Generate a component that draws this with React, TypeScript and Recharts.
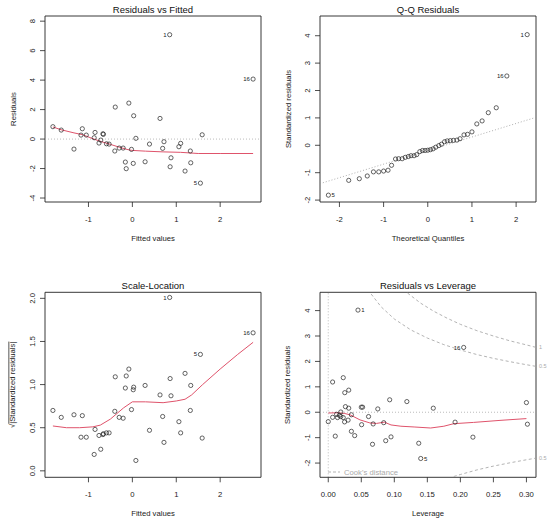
import React from "react";
import {
  ScatterChart,
  Scatter,
  XAxis,
  YAxis,
  ReferenceLine,
  ReferenceArea,
  ReferenceDot,
  Label,
} from "recharts";

const fitted = [
  -1.81, -1.62, -1.33, -1.14, -1.17, -1.05, -0.85, -0.87, -0.76, -0.72, -0.67, -0.66, -0.59, -0.53,
  -0.39, -0.4, -0.3, -0.21, -0.16, -0.14, -0.08, -0.02, 0.03, 0.02, 0.08, 0.29, 0.39, 0.63, 0.69,
  0.72, 0.85, 0.86, 0.88, 1.06, 1.1, 1.2, 1.32, 1.33, 1.55, 1.59, 2.75,
];
const residuals = [
  0.84, 0.61, -0.68, 0.7, 0.27, 0.27, 0.45, 0.09, -0.27, -0.07, 0.36, 0.32, -0.32, -0.34, 2.17,
  -0.81, -0.61, -0.61, -1.56, -2.01, 2.44, -0.7, 1.58, -1.65, 0.05, -1.54, -0.34, 1.4, -0.63, -0.18,
  7.08, -1.88, -1.27, -0.52, -0.29, -2.17, -0.81, -1.61, -2.99, 0.29, 4.07,
];
const sqrtStdResiduals = [
  0.7, 0.62, 0.65, 0.64, 0.39, 0.39, 0.48, 0.19, 0.41, 0.25, 0.42, 0.43, 0.44, 0.44, 1.09, 0.69,
  0.62, 0.61, 0.96, 1.1, 1.18, 0.71, 0.97, 0.94, 0.12, 0.99, 0.47, 0.88, 0.63, 0.33, 2.01, 1.07,
  0.87, 0.57, 0.44, 1.13, 0.7, 0.99, 1.35, 0.38, 1.6,
];
const fittedIds: Record<number, string> = { 30: "1", 38: "5", 40: "16" };

const rvfSmoothX = [-1.81, -1.62, -1.33, -1.14, -0.85, -0.7, -0.5, -0.3, -0.1, 0, 0.3, 0.7, 1.1, 1.5, 2.0, 2.75];
const rvfSmoothY = [0.82, 0.63, 0.42, 0.3, -0.03, -0.18, -0.36, -0.55, -0.72, -0.77, -0.82, -0.87, -0.9, -0.98, -0.98, -0.98];

const slSmoothX = [-1.81, -1.5, -1.2, -0.9, -0.73, -0.5, -0.2, 0, 0.3, 0.7, 1.0, 1.2, 1.35, 1.6, 2.0, 2.4, 2.75];
const slSmoothY = [0.52, 0.5, 0.5, 0.51, 0.53, 0.6, 0.73, 0.8, 0.8, 0.79, 0.81, 0.83, 0.88, 1.0, 1.18, 1.35, 1.49];

const theoQuantiles = [
  -2.25, -1.79, -1.55, -1.37, -1.23, -1.11, -1.0, -0.9, -0.82, -0.73, -0.66, -0.58, -0.51, -0.44,
  -0.38, -0.31, -0.25, -0.18, -0.12, -0.06, 0, 0.06, 0.12, 0.18, 0.25, 0.31, 0.38, 0.44, 0.51, 0.58,
  0.66, 0.73, 0.82, 0.9, 1.0, 1.11, 1.23, 1.37, 1.55, 1.79, 2.25,
];
const sortedStdResiduals = [
  -1.82, -1.28, -1.22, -1.12, -0.97, -0.97, -0.94, -0.91, -0.73, -0.5, -0.49, -0.49, -0.44, -0.41,
  -0.38, -0.38, -0.34, -0.23, -0.19, -0.19, -0.18, -0.16, -0.13, -0.07, -0.01, 0.04, 0.13, 0.16,
  0.17, 0.18, 0.19, 0.24, 0.38, 0.4, 0.49, 0.78, 0.89, 1.19, 1.37, 2.53, 4.04,
];
const qqIds: Record<number, string> = { 0: "5", 39: "16", 40: "1" };
const qqLine = [
  { x: -2.44, y: -1.4 },
  { x: 2.45, y: 1.02 },
];

const leverage = [
  0.0, 0.0066, 0.0066, 0.0106, 0.0126, 0.014, 0.0167, 0.019, 0.019, 0.0227, 0.0227, 0.0247, 0.025,
  0.026, 0.03, 0.031, 0.031, 0.035, 0.035, 0.04, 0.045, 0.05, 0.052, 0.0505, 0.061, 0.067, 0.068,
  0.075, 0.084, 0.087, 0.093, 0.095, 0.119, 0.137, 0.14, 0.159, 0.192, 0.205, 0.219, 0.3, 0.3015,
];
const leverageStdRes = [
  -0.37, 1.19, -0.2, -0.94, -0.08, -0.21, -0.12, 0.01, -0.17, 1.36, -0.21, -0.38, 0.77, 0.22, -0.31,
  0.87, 0.16, -0.1, -0.75, -0.92, 4.02, 0.2, 0.2, -0.49, -0.17, -1.26, -0.46, 0.13, -0.41, -1.12,
  0.49, -0.97, 0.42, -1.22, -1.82, 0.16, -0.39, 2.55, -0.98, 0.38, -0.47,
];
const leverageIds: Record<number, string> = { 20: "1", 34: "5", 37: "16" };

const levSmoothX = [0, 0.015, 0.025, 0.033, 0.048, 0.063, 0.073, 0.085, 0.095, 0.11, 0.13, 0.155, 0.175, 0.19, 0.22, 0.26, 0.3];
const levSmoothY = [-0.03, -0.02, -0.05, -0.1, -0.3, -0.42, -0.44, -0.39, -0.5, -0.55, -0.58, -0.62, -0.55, -0.45, -0.4, -0.32, -0.25];

// Cook's distance contours
const cookHalfX = [0.065, 0.08, 0.1, 0.125, 0.15, 0.175, 0.2, 0.225, 0.25, 0.275, 0.3, 0.3135];
const cookHalfY = [4.65, 4.15, 3.67, 3.24, 2.92, 2.66, 2.45, 2.27, 2.12, 1.99, 1.87, 1.81];
const cookOneX = [0.12, 0.14, 0.16, 0.18, 0.2, 0.225, 0.25, 0.275, 0.3, 0.3135];
const cookOneY = [4.69, 4.29, 3.97, 3.7, 3.46, 3.21, 3.0, 2.81, 2.65, 2.56];
const cookHalfLowX = [0.19, 0.2, 0.225, 0.25, 0.275, 0.3, 0.3135];
const cookHalfLowY = [-2.53, -2.45, -2.27, -2.12, -1.99, -1.87, -1.81];
const cookLabels = [
  { y: 2.56, text: "1" },
  { y: 1.81, text: "0.5" },
  { y: -1.81, text: "0.5" },
];

const FONT = "'Liberation Sans', Arial, sans-serif";
const INK = "#222";
const RED = "#DF536B";
const GRAY = "#aaaaaa";

const PLOT_LEFT = 45;
const PLOT_W = 216;
const CHART_W = 275;

type Pt = { x: number; y: number; id?: string };

const zip = (xs: number[], ys: number[], ids?: Record<number, string>): Pt[] =>
  xs.map((x, i) => ({ x, y: ys[i], id: ids ? ids[i] : undefined }));

const pointShape = (mid: number) => (props: any) => {
  const { cx, cy, payload } = props;
  if (cx == null || cy == null) return <g />;
  const left = payload.x > mid;
  return (
    <g>
      <circle cx={cx} cy={cy} r={2.1} fill="none" stroke={INK} strokeWidth={0.7} />
      {payload.id && (
        <text
          x={left ? cx - 3.2 : cx + 3.2}
          y={cy}
          dy="0.35em"
          textAnchor={left ? "end" : "start"}
          fontSize={6}
          fontFamily={FONT}
          fill={INK}
        >
          {payload.id}
        </text>
      )}
    </g>
  );
};

const noShape = () => <g />;

const xTick = (fmt: (v: number) => string) => (props: any) => (
  <text x={props.x} y={props.y} textAnchor="middle" fontSize={7.7} fontFamily={FONT} fill={INK}>
    {fmt(props.payload.value)}
  </text>
);

const yTick = (fmt: (v: number) => string) => (props: any) => (
  <text
    x={props.x}
    y={props.y}
    transform={`rotate(-90, ${props.x}, ${props.y})`}
    textAnchor="middle"
    fontSize={7.7}
    fontFamily={FONT}
    fill={INK}
  >
    {fmt(props.payload.value)}
  </text>
);

const mid = (xs: number[]) => (Math.min(...xs) + Math.max(...xs)) / 2;

interface PanelProps {
  left: number;
  top: number;
  height: number;
  plotTop: number;
  plotBottom: number;
  title: string;
  xLabel: string;
  yLabel: React.ReactNode;
  xDomain: [number, number];
  yDomain: [number, number];
  xTicks: number[];
  yTicks: number[];
  xFmt?: (v: number) => string;
  yFmt?: (v: number) => string;
  children?: React.ReactNode;
}

function Panel(p: PanelProps) {
  const xFmt = p.xFmt ?? ((v: number) => String(v));
  const yFmt = p.yFmt ?? ((v: number) => String(v));
  const xAxisH = p.height - p.plotBottom;
  return (
    <div style={{ position: "absolute", left: p.left, top: p.top }}>
      <ScatterChart
        width={CHART_W}
        height={p.height}
        margin={{ top: p.plotTop, right: CHART_W - PLOT_LEFT - PLOT_W, bottom: 0, left: 0 }}
      >
        <XAxis
          type="number"
          dataKey="x"
          domain={p.xDomain}
          allowDataOverflow
          ticks={p.xTicks}
          interval={0}
          height={xAxisH}
          axisLine={false}
          tickLine={{ stroke: INK, strokeWidth: 0.8 }}
          tickSize={5}
          tickMargin={14.5}
          tick={xTick(xFmt)}
        >
          <Label
            content={(lp: any) => (
              <text
                x={PLOT_LEFT + PLOT_W / 2}
                y={p.plotBottom + 38.5}
                textAnchor="middle"
                fontSize={7.7}
                fontFamily={FONT}
                fill={INK}
              >
                {p.xLabel}
              </text>
            )}
          />
        </XAxis>
        <YAxis
          type="number"
          dataKey="y"
          domain={p.yDomain}
          allowDataOverflow
          ticks={p.yTicks}
          interval={0}
          width={PLOT_LEFT}
          axisLine={false}
          tickLine={{ stroke: INK, strokeWidth: 0.8 }}
          tickSize={5}
          tickMargin={4.5}
          tick={yTick(yFmt)}
        >
          <Label
            content={() => {
              const cy = (p.plotTop + p.plotBottom) / 2;
              return (
                <text
                  x={15.5}
                  y={cy}
                  transform={`rotate(-90, 15.5, ${cy})`}
                  textAnchor="middle"
                  fontSize={7.7}
                  fontFamily={FONT}
                  fill={INK}
                >
                  {p.yLabel}
                </text>
              );
            }}
          />
        </YAxis>
        <ReferenceArea
          x1={p.xDomain[0]}
          x2={p.xDomain[1]}
          y1={p.yDomain[0]}
          y2={p.yDomain[1]}
          fill="none"
          fillOpacity={0}
          stroke={INK}
          strokeWidth={0.9}
          ifOverflow="visible"
        />
        {p.children}
        <text
          x={PLOT_LEFT + PLOT_W / 2}
          y={p.plotTop - 3.5}
          textAnchor="middle"
          fontSize={9.5}
          fontFamily={FONT}
          fill="#111"
        >
          {p.title}
        </text>
      </ScatterChart>
    </div>
  );
}

const rvfPoints = zip(fitted, residuals, fittedIds);
const slPoints = zip(fitted, sqrtStdResiduals, fittedIds);
const qqPoints = zip(theoQuantiles, sortedStdResiduals, qqIds);
const levPoints = zip(leverage, leverageStdRes, leverageIds);

const xFitMid = mid(fitted);
const qqMid = mid(theoQuantiles);
const levMid = mid(leverage);

export default function App() {
  return (
    <div
      style={{
        position: "absolute",
        left: 0,
        top: 0,
        width: 550,
        height: 521,
        background: "#fff",
        fontFamily: FONT,
      }}
    >
      <Panel
        left={0}
        top={0}
        height={260}
        plotTop={16}
        plotBottom={202}
        title="Residuals vs Fitted"
        xLabel="Fitted values"
        yLabel="Residuals"
        xDomain={[-1.99, 2.93]}
        yDomain={[-4.27, 8.35]}
        xTicks={[-1, 0, 1, 2]}
        yTicks={[-4, -2, 0, 2, 4, 6, 8]}
      >
        <ReferenceLine y={0} stroke={GRAY} strokeWidth={0.8} strokeDasharray="1 2" />
        <Scatter
          data={zip(rvfSmoothX, rvfSmoothY)}
          line={{ stroke: RED, strokeWidth: 1 }}
          shape={noShape}
          isAnimationActive={false}
        />
        <Scatter data={rvfPoints} shape={pointShape(xFitMid)} isAnimationActive={false} />
      </Panel>

      <Panel
        left={275}
        top={0}
        height={260}
        plotTop={16}
        plotBottom={202}
        title="Q-Q Residuals"
        xLabel="Theoretical Quantiles"
        yLabel="Standardized residuals"
        xDomain={[-2.44, 2.45]}
        yDomain={[-2.07, 4.72]}
        xTicks={[-2, -1, 0, 1, 2]}
        yTicks={[-2, -1, 0, 1, 2, 3, 4]}
      >
        <ReferenceLine
          segment={qqLine}
          stroke="#999"
          strokeWidth={0.8}
          strokeDasharray="1 2"
          ifOverflow="hidden"
        />
        <Scatter data={qqPoints} shape={pointShape(qqMid)} isAnimationActive={false} />
      </Panel>

      <Panel
        left={0}
        top={260}
        height={261}
        plotTop={32.3}
        plotBottom={217.3}
        title="Scale-Location"
        xLabel="Fitted values"
        yLabel={
          <>
            √<tspan style={{ textDecoration: "overline" }}>|Standardized residuals|</tspan>
          </>
        }
        xDomain={[-1.99, 2.93]}
        yDomain={[-0.075, 2.07]}
        xTicks={[-1, 0, 1, 2]}
        yTicks={[0, 0.5, 1, 1.5, 2]}
        yFmt={(v) => v.toFixed(1)}
      >
        <Scatter
          data={zip(slSmoothX, slSmoothY)}
          line={{ stroke: RED, strokeWidth: 1 }}
          shape={noShape}
          isAnimationActive={false}
        />
        <Scatter data={slPoints} shape={pointShape(xFitMid)} isAnimationActive={false} />
      </Panel>

      <Panel
        left={275}
        top={260}
        height={261}
        plotTop={32.3}
        plotBottom={217.3}
        title="Residuals vs Leverage"
        xLabel="Leverage"
        yLabel="Standardized residuals"
        xDomain={[-0.0125, 0.3145]}
        yDomain={[-2.56, 4.72]}
        xTicks={[0, 0.05, 0.1, 0.15, 0.2, 0.25, 0.3]}
        yTicks={[-2, -1, 0, 1, 2, 3, 4]}
        xFmt={(v) => v.toFixed(2)}
      >
        <ReferenceLine y={0} stroke={GRAY} strokeWidth={0.8} strokeDasharray="1 2" />
        <ReferenceLine x={0} stroke={GRAY} strokeWidth={0.8} strokeDasharray="1 2" />
        <Scatter
          data={zip(cookHalfX, cookHalfY)}
          line={{ stroke: GRAY, strokeWidth: 0.9, strokeDasharray: "3 2.5" }}
          shape={noShape}
          isAnimationActive={false}
        />
        <Scatter
          data={zip(cookOneX, cookOneY)}
          line={{ stroke: GRAY, strokeWidth: 0.9, strokeDasharray: "3 2.5" }}
          shape={noShape}
          isAnimationActive={false}
        />
        <Scatter
          data={zip(cookHalfLowX, cookHalfLowY)}
          line={{ stroke: GRAY, strokeWidth: 0.9, strokeDasharray: "3 2.5" }}
          shape={noShape}
          isAnimationActive={false}
        />
        <Scatter
          data={zip(levSmoothX, levSmoothY)}
          line={{ stroke: RED, strokeWidth: 1 }}
          shape={noShape}
          isAnimationActive={false}
        />
        <Scatter data={levPoints} shape={pointShape(levMid)} isAnimationActive={false} />
        {cookLabels.map((c, i) => (
          <ReferenceDot
            key={i}
            x={0.3145}
            y={c.y}
            r={0}
            stroke="none"
            fill="none"
            ifOverflow="visible"
            label={{ value: c.text, position: "right", offset: 3, fontSize: 5.5, fill: GRAY, fontFamily: FONT }}
          />
        ))}
        <g>
          <line x1={53} x2={65} y1={212} y2={212} stroke={GRAY} strokeWidth={0.9} strokeDasharray="3 2" />
          <text x={69} y={214.7} fontSize={7.7} fontFamily={FONT} fill={GRAY}>
            Cook's distance
          </text>
        </g>
      </Panel>
    </div>
  );
}
